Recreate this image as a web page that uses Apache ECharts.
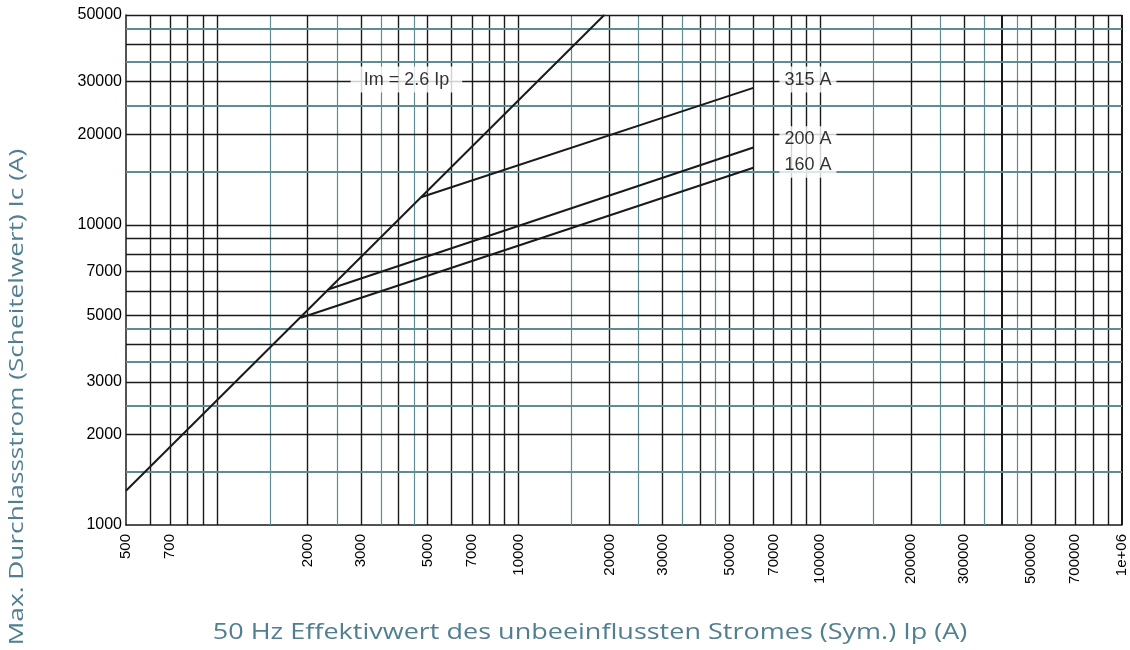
<!DOCTYPE html>
<html>
<head>
<meta charset="utf-8"/>
<title>Durchlassstrom</title>
<script src="https://cdn.jsdelivr.net/npm/echarts@6/dist/echarts.min.js"></script>
<style>
  html, body { margin: 0; padding: 0; background: #fff; }
  #main { width: 1130px; height: 650px; }
</style>
</head>
<body>
<div id="main"></div>
<script type="text/javascript">
// tick labels
var xTicks = [500, 700, 2000, 3000, 5000, 7000, 10000, 20000, 30000, 50000, 70000, 100000, 200000, 300000, 500000, 700000, 1000000];
var yTicks = [1000, 2000, 3000, 5000, 7000, 10000, 20000, 30000, 50000];

// grid lines (black and teal)
var xGridBlack = [600, 700, 800, 900, 1000, 2000, 3000, 4000, 5000, 6000, 7000, 8000, 9000, 10000,
  20000, 30000, 40000, 50000, 60000, 70000, 80000, 90000, 100000,
  200000, 300000, 400000, 500000, 600000, 700000, 800000, 900000, 1000000];
var xGridTeal = [1500, 2500, 3500, 4500, 15000, 25000, 35000, 45000, 150000, 250000, 350000, 450000];
var yGridBlack = [2000, 3000, 4000, 5000, 6000, 7000, 8000, 9000, 10000, 20000, 30000, 40000, 50000];
var yGridTeal = [1500, 2500, 3500, 4500, 15000, 25000, 35000, 45000];

// curves [Ip, Ic]
var lineIm = [[500, 1300], [19230, 50000]];
var line315 = [[4750, 12350], [60000, 28600]];
var line200 = [[2350, 6100], [60000, 18100]];
var line160 = [[1900, 4900], [60000, 15500]];

// curve labels [Ip, Ic, text]
var curveLabels = [
  [4250, 30000, 'Im = 2.6 Ip'],
  [91000, 30000, '315 A'],
  [91000, 19000, '200 A'],
  [91000, 15600, '160 A']
];

var black = '#1a1a1a';
var teal = '#5d8c95';
var titleColor = '#517f90';

var gridLines = [];
xGridBlack.forEach(function (v) {
  gridLines.push({ xAxis: v, lineStyle: { color: black, width: (v === 400000 || v === 1000000) ? 2 : 1.4, type: 'solid' } });
});
xGridTeal.forEach(function (v) {
  gridLines.push({ xAxis: v, lineStyle: { color: teal, width: 1.2, type: 'solid' } });
});
yGridBlack.forEach(function (v) {
  gridLines.push({ yAxis: v, lineStyle: { color: black, width: 1.4, type: 'solid' } });
});
yGridTeal.forEach(function (v) {
  gridLines.push({ yAxis: v, lineStyle: { color: teal, width: 2, type: 'solid' } });
});

function curve(name, data) {
  return {
    name: name, type: 'line', data: data, z: 3,
    symbol: 'none', silent: true,
    lineStyle: { color: black, width: 2 }
  };
}

var labelData = curveLabels.map(function (d, i) {
  var item = { value: [d[0], d[1]], name: d[2] };
  if (i === 0) item.label = { padding: [4, 13] };
  return item;
});

var myChart = echarts.init(document.getElementById('main'));
var option = {
  animation: false,
  grid: { left: 126, right: 8, top: 15, bottom: 125 },
  xAxis: {
    type: 'log', logBase: 10, min: 500, max: 1000000,
    axisLine: { show: true, lineStyle: { color: black, width: 1.5 } },
    axisTick: { show: false },
    splitLine: { show: false },
    axisLabel: {
      customValues: xTicks,
      rotate: 90, margin: 9,
      fontFamily: 'Liberation Sans', fontSize: 15, color: '#000',
      formatter: function (v) { return v >= 1000000 ? '1e+06' : String(v); }
    }
  },
  yAxis: {
    type: 'log', logBase: 10, min: 1000, max: 50000,
    axisLine: { show: true, lineStyle: { color: black, width: 1.5 } },
    axisTick: { show: false },
    splitLine: { show: false },
    axisLabel: {
      customValues: yTicks,
      margin: 4,
      fontFamily: 'Liberation Sans', fontSize: 16, color: '#000',
      formatter: function (v) { return String(v); }
    }
  },
  graphic: [
    {
      type: 'text', x: 590, y: 633, scaleX: 1.286,
      style: { text: '50 Hz Effektivwert des unbeeinflussten Stromes (Sym.) Ip (A)', fill: titleColor,
        font: '21px "Open Sans"', textAlign: 'center', textVerticalAlign: 'middle' }
    },
    {
      type: 'text', x: 17, y: 397, rotation: Math.PI / 2, scaleX: 1.31,
      style: { text: 'Max. Durchlassstrom (Scheitelwert) Ic (A)', fill: titleColor,
        font: '20px "Open Sans"', textAlign: 'center', textVerticalAlign: 'middle' }
    }
  ],
  series: [
    {
      name: 'grid', type: 'line', data: [], silent: true,
      markLine: { silent: true, z: 1, symbol: ['none', 'none'], label: { show: false }, animation: false, data: gridLines }
    },
    curve('Im', lineIm),
    curve('315 A', line315),
    curve('200 A', line200),
    curve('160 A', line160),
    {
      name: 'labels', type: 'scatter', z: 5, silent: true,
      symbolSize: 0,
      data: labelData,
      label: {
        show: true, position: 'inside', formatter: '{b}',
        fontFamily: 'Liberation Sans', fontSize: 18, color: '#000',
        backgroundColor: '#fff', padding: [4, 5], offset: [0, -2]
      }
    }
  ]
};
myChart.setOption(option);
</script>
</body>
</html>
